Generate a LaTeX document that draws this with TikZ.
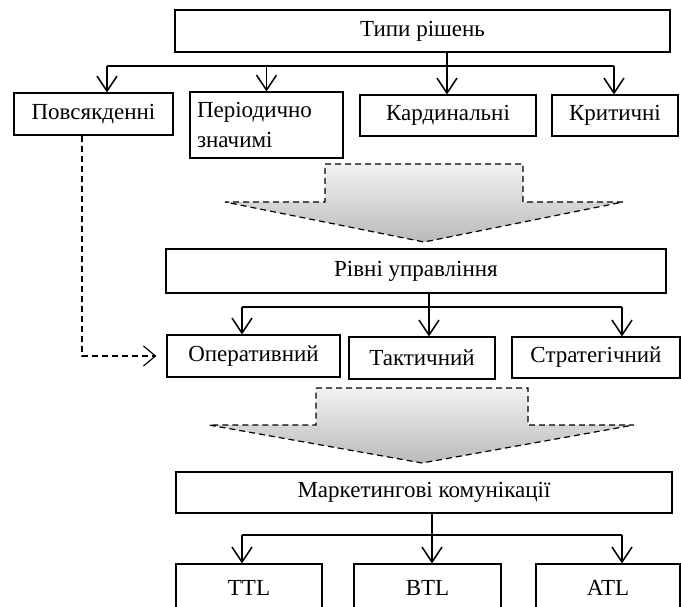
\documentclass[tikz,border=0pt]{standalone}
\usepackage{fontspec}
\setmainfont{Liberation Serif}
\usepackage{xcolor}
\usetikzlibrary{arrows.meta,positioning,calc}
\definecolor{arrowtop}{RGB}{242, 242, 242}
\definecolor{arrowbottom}{RGB}{186, 186, 186}

\tikzset{
    box/.style={draw, line width=1.2pt, inner sep=0pt, align=center,
        font=\fontsize{23}{30}\selectfont},
    bigbox/.style={box, line width=1.8pt},
    link/.style={line width=1.5pt, -{Straight Barb[length=15pt,width=20pt]}},
    plainlink/.style={line width=1.5pt},
    flow/.style={draw, dashed, dash pattern=on 6pt off 4pt, line width=1.2pt,
        top color=arrowtop, bottom color=arrowbottom},
}

\begin{document}
\begin{tikzpicture}[x=1pt,y=-1pt]
    \clip (0,0) rectangle (681,607);
    \fill[white] (0,0) rectangle (681,607);

    % types of decisions
    \node[bigbox, minimum width=495pt, minimum height=42pt] (types) at (422.5,31) {Типи рішень};
    \node[box, minimum width=159pt, minimum height=42pt] (daily) at (93.5,114) {Повсякденні};
    \node[box, minimum width=153pt, minimum height=66pt, text width=139pt, align=left] (period) at (266.5,125) {Періодично\\значимі};
    \node[box, minimum width=176pt, minimum height=41pt] (cardinal) at (448,115.5) {Кардинальні};
    \node[box, minimum width=126pt, minimum height=41pt] (critical) at (615,115.5) {Критичні};

    \coordinate (typesbus) at (447,66);
    \draw[link] (types.south -| typesbus) -- (cardinal.north -| typesbus);
    \draw[plainlink] ([xshift=13.5pt]daily.north |- typesbus) -- ([xshift=-1pt]critical.north |- typesbus);
    \draw[link] ([xshift=13.5pt]daily.north |- typesbus) -- ([xshift=13.5pt]daily.north);
    \draw[link] (period.north |- typesbus) -- (period.north);
    \draw[link] ([xshift=-1pt]critical.north |- typesbus) -- ([xshift=-1pt]critical.north);

    % first flow arrow
    \draw[flow] (325,164) -- (523,164) -- (523,202) -- (623,202) -- (424,242)
        -- (225,202) -- (325,202) -- cycle;

    % management levels
    \node[bigbox, minimum width=500pt, minimum height=44pt] (levels) at (416,271) {Рівні управління};
    \node[box, minimum width=173pt, minimum height=42pt] (oper) at (253.5,356) {Оперативний};
    \node[box, minimum width=146pt, minimum height=42pt] (tact) at (422,358) {Тактичний};
    \node[box, minimum width=168pt, minimum height=41pt] (strat) at (596,357.5) {Стратегічний};

    \coordinate (levelsbus) at (429,307);
    \draw[link] (levels.south -| levelsbus) -- (tact.north -| levelsbus);
    \draw[plainlink] (242,307) -- (622,307);
    \draw[link] (levelsbus -| 242,0) -- (oper.north -| 242,0);
    \draw[link] (levelsbus -| 622,0) -- (strat.north -| 622,0);

    % daily decisions go to the operative level
    \draw[line width=1.2pt, dashed, dash pattern=on 6pt off 4pt, -{Straight Barb[length=12pt,width=20pt]}]
        ([xshift=-11.5pt]daily.south) |- ([xshift=-10pt]oper.west);

    % second flow arrow
    \draw[flow] (316,388) -- (528,388) -- (528,425) -- (634,425) -- (422,463)
        -- (209,425) -- (316,425) -- cycle;

    % marketing communications
    \node[bigbox, minimum width=496pt, minimum height=41pt] (market) at (424,492.5) {Маркетингові комунікації};
    \node[box, minimum width=146pt, minimum height=48pt] (ttl) at (249,588) {TTL};
    \node[box, minimum width=147pt, minimum height=48pt] (btl) at (427.5,588) {BTL};
    \node[box, minimum width=144pt, minimum height=48pt] (atl) at (608,588) {ATL};

    \coordinate (marketbus) at (432,535);
    \draw[link] (market.south -| marketbus) -- (btl.north -| marketbus);
    \draw[plainlink] (242,535) -- (622,535);
    \draw[link] (marketbus -| 242,0) -- (ttl.north -| 242,0);
    \draw[link] (marketbus -| 622,0) -- (atl.north -| 622,0);
\end{tikzpicture}
\end{document}
